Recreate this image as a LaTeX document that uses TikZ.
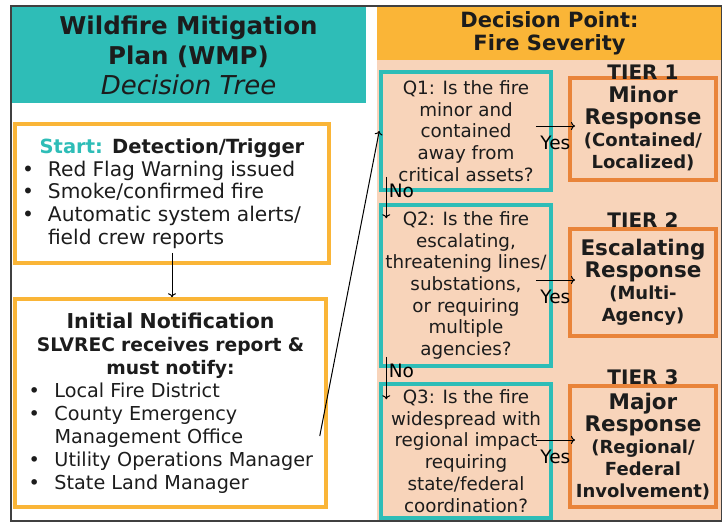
\documentclass[tikz,border=0pt]{standalone}
\usepackage{fontspec}
\setmainfont{DejaVu Sans}
\usepackage{tikz}
\usetikzlibrary{arrows.meta}

\definecolor{wmpteal}{RGB}{46,189,183}
\definecolor{wmpgold}{RGB}{250,181,55}
\definecolor{wmppeach}{RGB}{248,212,186}
\definecolor{wmporange}{RGB}{233,132,58}
\definecolor{wmpink}{RGB}{28,28,28}
\newcommand{\bul}{\makebox[26pt][l]{\textbullet}}
\newcommand{\nbul}{\hspace*{7pt}\makebox[26pt][l]{\textbullet}}
\newcommand{\tierbig}{\fontsize{21.5}{24}\selectfont}

\begin{document}
\begin{tikzpicture}[x=1pt,y=-1pt,
  font=\fontsize{18.5}{22.7}\selectfont, text=wmpink,
  goldbox/.style={draw=wmpgold,line width=3.5pt,inner sep=0pt,align=left},
  qbox/.style={draw=wmpteal,line width=3.5pt,minimum width=170pt,inner sep=0pt,align=center,font=\fontsize{18.3}{21.7}\selectfont},
  tierbox/.style={draw=wmporange,line width=4pt,minimum width=146pt,inner sep=0pt,align=center,font=\fontsize{18}{22}\selectfont\bfseries},
  tiername/.style={font=\fontsize{20}{24}\selectfont\bfseries,inner sep=0pt},
  flow/.style={-{To[length=4pt,width=8pt]},line width=1pt,black}]
\useasboundingbox (0,0) rectangle (722,524);

% Right side - background panel
\fill[wmppeach] (377,60) rectangle (722,520);

% Left side - title and trigger boxes
\node[fill=wmpteal,minimum width=355pt,minimum height=96pt,inner sep=0pt,align=center,
  font=\fontsize{24.5}{30}\selectfont\bfseries] (title) at (188.5,55)
  {Wildfire Mitigation\\Plan (WMP)\\{\fontsize{26}{30}\selectfont\mdseries\itshape Decision Tree}};
\node[goldbox,minimum width=314pt,minimum height=139pt,text width=300pt] (start) at (172,193.5)
  {{\centering\fontsize{19.5}{26}\selectfont\bfseries\textcolor{wmpteal}{Start:} Detection/Trigger\par}
   \fontsize{20.2}{22.7}\selectfont
   \bul Red Flag Warning issued\\
   \bul Smoke/confirmed fire\\
   \bul Automatic system alerts/\\
   \hspace*{26pt}field crew reports};
\node[goldbox,minimum width=311pt,minimum height=208pt,text width=298pt] (notify) at (170.5,403)
  {{\centering\fontsize{20.5}{25}\selectfont\bfseries Initial Notification\par
    \fontsize{18.7}{23}\selectfont SLVREC receives report \&\\must notify:\par}
   \fontsize{19.2}{23.2}\selectfont
   \nbul Local Fire District\\
   \nbul County Emergency\\
   \hspace*{33pt}Management Office\\
   \nbul Utility Operations Manager\\
   \nbul State Land Manager};

% Right side - questions
\node[fill=wmpgold,minimum width=345pt,minimum height=54pt,inner sep=0pt,align=center,
  font=\fontsize{21}{23}\selectfont\bfseries] (severity) at (549.5,33) {Decision Point:\\Fire Severity};
\node[qbox,minimum height=118pt] (q1) at (466,131)
  {Q1: Is the fire\\minor and\\contained\\away from\\critical assets?};
\node[qbox,minimum height=161pt] (q2) at (466,285.5)
  {Q2: Is the fire\\escalating,\\threatening lines/\\substations,\\or requiring\\multiple\\agencies?};
\node[qbox,minimum height=134pt] (q3) at (466,451)
  {Q3: Is the fire\\widespread with\\regional impact\\requiring\\state/federal\\coordination?};

% Right side - response tiers
\node[tierbox,minimum height=102pt,label={[tiername,label distance=-4pt]above:TIER 1}] (t1) at (643,129)
  {{\tierbig Minor}\\{\tierbig Response}\\(Contained/\\Localized)};
\node[tierbox,minimum height=107pt,label={[tiername,label distance=-1pt]above:TIER 2}] (t2) at (643,282.5)
  {{\tierbig Escalating}\\{\tierbig Response}\\(Multi-\\Agency)};
\node[tierbox,minimum height=121pt,label={[tiername,label distance=-1pt]above:TIER 3}] (t3) at (643,446.5)
  {{\tierbig Major}\\{\tierbig Response}\\(Regional/\\Federal\\Involvement)};

% Arrows
\draw[flow] ([yshift=12pt]start.south) -- (start.south |- notify.north);
\draw[flow] ([xshift=-8pt,yshift=-33pt]notify.east) -- (q1.west);
\draw[flow] ([xshift=-17pt,yshift=5pt]q1.east) -- node[yshift=-17pt,inner sep=0pt] (yes1) {Yes} ([xshift=7pt,yshift=3pt]t1.west);
\draw[flow] ([xshift=-17pt,yshift=5.5pt]q2.east) -- node[yshift=-17pt,inner sep=0pt] (yes2) {Yes} ([xshift=7pt,yshift=2.5pt]t2.west);
\draw[flow] ([xshift=-17pt,yshift=11pt]q3.east) -- node[yshift=-17pt,inner sep=0pt] (yes3) {Yes} ([xshift=7pt,yshift=6.5pt]t3.west);
\draw[flow] ([xshift=7pt,yshift=15pt]q1.south west) -- node[pos=0.34,right,inner sep=2pt] (no1) {No} ([xshift=7pt,yshift=-15pt]q2.north west);
\draw[flow] ([xshift=7pt,yshift=11pt]q2.south west) -- node[pos=0.33,right,inner sep=2pt] (no2) {No} ([xshift=7pt,yshift=-17pt]q3.north west);

% Frame
\draw[black!75,line width=1.2pt] (11,6) rectangle (721.5,521);
\end{tikzpicture}
\end{document}
